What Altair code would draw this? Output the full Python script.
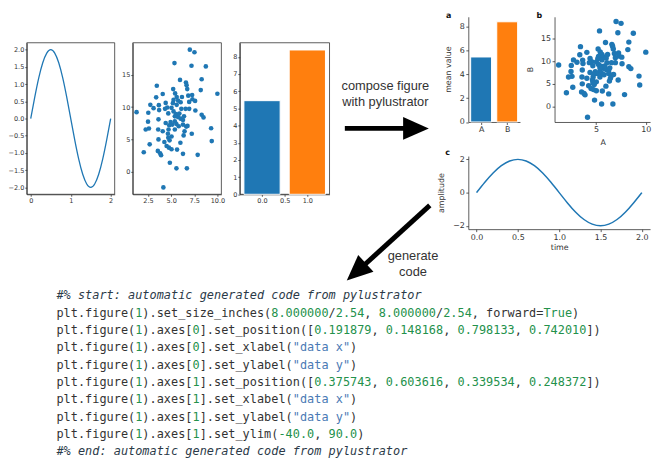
import altair as alt
import pandas as pd

# ---------------- data ----------------
sine_t = [0.0, 0.1, 0.2, 0.3, 0.4, 0.5, 0.6, 0.7, 0.8, 0.9, 1.0,
          1.1, 1.2, 1.3, 1.4, 1.5, 1.6, 1.7, 1.8, 1.9, 2.0]
sine_y = [0.0, 0.62, 1.18, 1.62, 1.90, 2.0, 1.90, 1.62, 1.18, 0.62, 0.0,
          -0.62, -1.18, -1.62, -1.90, -2.0, -1.90, -1.62, -1.18, -0.62, 0.0]

scatter_x = [7.02, 7.52, 5.36, 7.20, 8.75, 3.45, 5.96, 8.30, 6.60, 6.67,
             4.09, 5.22, 5.43, 3.38, 10.0, 6.74, 8.20, 6.85, 7.27, 5.60,
             5.26, 5.75, 7.30, 5.19, 4.41, 2.75, 3.67, 6.03, 6.95, 1.26,
             2.53, 3.70, 4.58, 5.04, 6.10, 6.56, 7.62, 5.53, 8.30, 8.50,
             5.75, 6.03, 3.63, 2.50, 6.28, 5.40, 4.41, 4.94, 5.12, 5.57,
             4.79, 6.77, 6.63, 2.60, 2.25, 3.60, 6.45, 4.72, 9.32, 4.65,
             7.23, 6.35, 5.04, 4.69, 3.63, 4.83, 4.27, 6.00, 9.39, 2.68,
             4.51, 4.76, 5.04, 5.64, 3.56, 3.81, 3.91, 2.04, 6.28, 7.87,
             4.86, 5.57, 6.70, 4.16, 5.40, 5.89, 6.39, 5.26, 4.34, 4.09,
             5.40, 5.82, 6.28, 6.95, 3.10, 5.60, 6.17, 7.59, 4.69]
scatter_y = [18.85, 18.45, 16.78, 16.37, 16.27, 13.28, 14.19, 14.29, 13.79, 13.38,
             12.01, 12.77, 12.11, 11.50, 12.06, 12.77, 12.62, 11.76, 11.86, 11.56,
             11.10, 11.00, 11.20, 10.60, 10.64, 10.34, 10.29, 10.74, 10.80, 9.22,
             9.12, 9.53, 9.93, 9.88, 9.73, 9.73, 9.48, 8.92, 8.82, 8.41,
             8.46, 8.21, 8.11, 7.75, 8.00, 7.80, 7.55, 7.70, 7.30, 7.40,
             7.20, 7.10, 6.99, 6.69, 6.54, 6.54, 6.28, 6.54, 6.74, 5.88,
             5.88, 5.63, 5.47, 5.27, 5.02, 4.87, 4.61, 4.51, 4.76, 4.26,
             4.00, 3.75, 3.50, 3.45, 3.24, 2.89, 2.58, 3.04, 2.79, 2.64,
             1.42, 0.56, 0.56, -2.38, 8.57, 9.00, 8.57, 9.33, 9.73, 6.28,
             6.54, 7.05, 7.30, 9.73, 9.83, 10.34, 11.56, 10.95, 9.02]

bar_labels = ["A", "B"]
bar_pos = [0, 1]
bar_values = [5.45, 8.40]
bar_colors = ["#1f77b4", "#ff7f0e"]

compose_text = ["compose figure", "with pylustrator"]
generate_text = ["generate", "code"]
panel_letters = ["a", "b", "c"]

code_lines = [
    [("#% start: automatic generated code from pylustrator", "c")],
    [("plt.figure(", "t"), ("1", "n"), (").set_size_inches(", "t"), ("8.000000", "n"), ("/", "t"),
     ("2.54", "n"), (", ", "t"), ("8.000000", "n"), ("/", "t"), ("2.54", "n"), (", forward=", "t"),
     ("True", "n"), (")", "t")],
    [("plt.figure(", "t"), ("1", "n"), (").axes[", "t"), ("0", "n"), ("].set_position([", "t"),
     ("0.191879", "n"), (", ", "t"), ("0.148168", "n"), (", ", "t"), ("0.798133", "n"), (", ", "t"),
     ("0.742010", "n"), ("])", "t")],
    [("plt.figure(", "t"), ("1", "n"), (").axes[", "t"), ("0", "n"), ("].set_xlabel(", "t"),
     ('"data x"', "s"), (")", "t")],
    [("plt.figure(", "t"), ("1", "n"), (").axes[", "t"), ("0", "n"), ("].set_ylabel(", "t"),
     ('"data y"', "s"), (")", "t")],
    [("plt.figure(", "t"), ("1", "n"), (").axes[", "t"), ("1", "n"), ("].set_position([", "t"),
     ("0.375743", "n"), (", ", "t"), ("0.603616", "n"), (", ", "t"), ("0.339534", "n"), (", ", "t"),
     ("0.248372", "n"), ("])", "t")],
    [("plt.figure(", "t"), ("1", "n"), (").axes[", "t"), ("1", "n"), ("].set_xlabel(", "t"),
     ('"data x"', "s"), (")", "t")],
    [("plt.figure(", "t"), ("1", "n"), (").axes[", "t"), ("1", "n"), ("].set_ylabel(", "t"),
     ('"data y"', "s"), (")", "t")],
    [("plt.figure(", "t"), ("1", "n"), (").axes[", "t"), ("1", "n"), ("].set_ylim(", "t"),
     ("-40.0", "n"), (", ", "t"), ("90.0", "n"), (")", "t")],
    [("#% end: automatic generated code from pylustrator", "c")],
]

# ---------------- layout helpers ----------------
M = 8            # page margin
W, H = 656, 468  # whole canvas (right/bottom margin used as drawing room)
DARK = "#333333"
one = pd.DataFrame({"_": [0]})


def sc(dom, p0, p1):
    return alt.Scale(domain=dom, range=[p0 - M, p1 - M], nice=False, zero=False)


AX = dict(grid=False, domainColor=DARK, tickColor=DARK, labelColor=DARK,
          labelFont="DejaVu Sans", tickSize=2.5, labelPadding=1.5,
          domainWidth=0.8, tickWidth=0.8, labelFlush=False, labelOverlap=False,
          labelBound=False, titleFont="DejaVu Sans", titleFontWeight="normal",
          titleColor=DARK)


def xaxis(y_page, values, fmt, fs, **kw):
    d = dict(AX)
    d.update(kw)
    return alt.Axis(orient="bottom", offset=(y_page - M) - H, values=values,
                    format=fmt, labelFontSize=fs, **d)


def yaxis(x_page, values, fmt, fs, **kw):
    d = dict(AX)
    d.update(kw)
    return alt.Axis(orient="left", offset=-(x_page - M), values=values,
                    format=fmt, labelFontSize=fs, **d)


def frame(xs, ys, xd, yd):
    df = pd.DataFrame({"x0": [xd[0]], "x1": [xd[1]], "y0": [yd[0]], "y1": [yd[1]]})
    return alt.Chart(df).mark_rect(fillOpacity=0, stroke=DARK, strokeWidth=0.8).encode(
        x=alt.X("x0:Q", scale=xs, axis=None), x2="x1",
        y=alt.Y("y0:Q", scale=ys, axis=None), y2="y1")


sine_df = pd.DataFrame({"t": sine_t, "y": sine_y})
scat_df = pd.DataFrame({"x": scatter_x, "y": scatter_y})
bar_df = pd.DataFrame({"pos": bar_pos, "label": bar_labels, "value": bar_values,
                       "color": bar_colors})
bar_df["lo"] = bar_df["pos"] - 0.4
bar_df["hi"] = bar_df["pos"] + 0.4
label_expr = "[" + ",".join("'%s'" % c for c in bar_labels) + "][datum.value]"

BLUE = "#1f77b4"

# ---------------- left: original panels ----------------
L_TOP, L_BOT = 40.3, 193.7
FL = 6.6
LSMALL = dict(tickSize=2, labelPadding=1)

P1_L = 27
d1x, d1y = [-0.1, 2.1], [-2.2, 2.2]
s1x, s1y = sc(d1x, P1_L, 116), sc(d1y, L_BOT, L_TOP)
f1 = frame(s1x, s1y, d1x, d1y)
p1 = alt.Chart(sine_df).mark_line(color=BLUE, strokeWidth=1.3, interpolate="natural").encode(
    x=alt.X("t:Q", scale=s1x, axis=xaxis(L_BOT, [0, 1, 2], "d", FL, **LSMALL), title=None),
    y=alt.Y("y:Q", scale=s1y, title=None,
            axis=yaxis(P1_L, [-2, -1.5, -1, -0.5, 0, 0.5, 1, 1.5, 2], ".1f", FL, **LSMALL)))

d2x, d2y = [0.85, 10.43], [-3.44, 19.91]
s2x, s2y = sc(d2x, 134.3, 224), sc(d2y, L_BOT, L_TOP)
f2 = frame(s2x, s2y, d2x, d2y)
p2 = alt.Chart(scat_df).mark_circle(color=BLUE, opacity=1, size=22).encode(
    x=alt.X("x:Q", scale=s2x, title=None,
            axis=xaxis(L_BOT, [2.5, 5, 7.5, 10], ".1f", FL, **LSMALL)),
    y=alt.Y("y:Q", scale=s2y, title=None,
            axis=yaxis(134.3, [0, 5, 10, 15], "d", FL, **LSMALL)))

d3x, d3y = [-0.49, 1.49], [0, 8.82]
s3x, s3y = sc(d3x, 242.7, 333.5), sc(d3y, L_BOT, L_TOP)
f3 = frame(s3x, s3y, d3x, d3y)
p3 = alt.Chart(bar_df).mark_bar(stroke="white", strokeWidth=1).encode(
    x=alt.X("lo:Q", scale=s3x, title=None,
            axis=xaxis(L_BOT, [0, 0.5, 1], ".1f", FL, **LSMALL)),
    x2="hi",
    y=alt.Y("value:Q", scale=s3y, title=None,
            axis=yaxis(242.7, [0, 1, 2, 3, 4, 5, 6, 7, 8], "d", FL, **LSMALL)),
    y2=alt.datum(0),
    color=alt.Color("color:N", scale=None))

# ---------------- right: composed figure ----------------
R_TOP, R_BOT = 14, 120.5
FS = 8

sax, say = sc([-0.49, 1.49], 474, 526.3), sc([0, 8.82], R_BOT, R_TOP)
pa = alt.Chart(bar_df).mark_bar(stroke="white", strokeWidth=1).encode(
    x=alt.X("lo:Q", scale=sax, title=None,
            axis=xaxis(R_BOT, [0, 1], "d", FS, labelExpr=label_expr)),
    x2="hi",
    y=alt.Y("value:Q", scale=say, title="mean value",
            axis=yaxis(474, [0, 2, 4, 6, 8], "d", FS, titleFontSize=FS, titleX=-20,
                       titleY=67 - M, titleAngle=270, titleBaseline="middle",
                       titleAlign="center")),
    y2=alt.datum(0),
    color=alt.Color("color:N", scale=None))

sbx, sby = sc([0.85, 10.43], 561.3, 658), sc([-3.44, 19.91], R_BOT, R_TOP)
pb = alt.Chart(scat_df).mark_circle(color=BLUE, opacity=1, size=30).encode(
    x=alt.X("x:Q", scale=sbx, title="A",
            axis=xaxis(R_BOT, [5, 10], "d", FS, titleFontSize=FS, titleX=610 - M,
                       titleY=141.5 - R_BOT, titleBaseline="middle", titleAlign="center")),
    y=alt.Y("y:Q", scale=sby, title="B",
            axis=yaxis(561.3, [0, 5, 10, 15], "d", FS, titleFontSize=FS, titleX=-24,
                       titleY=67 - M, titleAngle=270, titleBaseline="middle",
                       titleAlign="center")))

C_TOP, C_BOT = 155, 229
scx, scy = sc([-0.1, 2.1], 474, 658), sc([-2.2, 2.2], C_BOT, C_TOP)
pc = alt.Chart(sine_df).mark_line(color=BLUE, strokeWidth=1.5, interpolate="natural").encode(
    x=alt.X("t:Q", scale=scx, title="time",
            axis=xaxis(C_BOT, [0, 0.5, 1, 1.5, 2], ".1f", FS, titleFontSize=FS,
                       titleX=566 - M, titleY=248 - C_BOT, titleBaseline="middle",
                       titleAlign="center")),
    y=alt.Y("y:Q", scale=scy, title="amplitude",
            axis=yaxis(474, [-2, 0, 2], "d", FS, titleFontSize=FS, titleX=-27,
                       titleY=192 - M, titleAngle=270, titleBaseline="middle",
                       titleAlign="center")))

letters = []
for txt, (lx, ly) in zip(panel_letters, [(454, 13), (546, 13), (453, 152)]):
    letters.append(alt.Chart(one).mark_text(
        font="DejaVu Sans", fontSize=8, fontWeight="bold", color="#111111",
        align="center", baseline="middle").encode(
        x=alt.value(lx - M), y=alt.value(ly - M), text=alt.value(txt)))

# ---------------- arrows and captions ----------------
ARROW_HEAD = "M-1,-0.885L1,0L-1,0.885Z"

h_shaft = alt.Chart(one).mark_rule(color="black", strokeWidth=5, strokeCap="butt").encode(
    x=alt.value(349 - M), x2=alt.value(410 - M), y=alt.value(127 - M), y2=alt.value(127 - M))
h_head = alt.Chart(one).mark_point(shape=ARROW_HEAD, filled=True, color="black", opacity=1,
                                   size=676, strokeWidth=0).encode(
    x=alt.value(421 - M), y=alt.value(127 - M))

d_shaft = alt.Chart(one).mark_rule(color="black", strokeWidth=5, strokeCap="butt").encode(
    x=alt.value(435 - M), x2=alt.value(369 - M), y=alt.value(205 - M), y2=alt.value(265 - M))
d_head = alt.Chart(one).mark_point(shape=ARROW_HEAD, filled=True, color="black", opacity=1,
                                   size=676, strokeWidth=0, angle=137.9).encode(
    x=alt.value(360.6 - M), y=alt.value(272.3 - M))

compose = alt.Chart(one).mark_text(
    text=compose_text, font="Liberation Sans", fontSize=13, color=DARK,
    align="center", baseline="middle", lineHeight=16.7).encode(
    x=alt.value(390 - M), y=alt.value(84 - M))

generate = alt.Chart(one).mark_text(
    text=generate_text, font="Liberation Sans", fontSize=13, color=DARK,
    align="center", baseline="middle", lineHeight=16).encode(
    x=alt.value(418 - M), y=alt.value(256 - M))

# ---------------- generated code ----------------
tok_colors = {"t": "#333333", "n": "#23914b", "s": "#4a7ab5", "c": "#2b3a48"}
rows = []
for i, line in enumerate(code_lines):
    col = 0
    for text, kind in line:
        for ch in text:
            if ch != " ":
                rows.append({"line": i, "col": col + 0.5, "ch": ch,
                             "color": tok_colors[kind], "italic": kind == "c"})
            col += 1
code_df = pd.DataFrame(rows)
NCOL = 76
CW = 7.25
code_x = alt.Scale(domain=[0, NCOL], range=[57 - M, 57 - M + NCOL * CW], nice=False, zero=False)
code_y = alt.Scale(domain=[0, len(code_lines) - 1], range=[296 - M, 454 - M], nice=False, zero=False)


def code_layer(df, style):
    return alt.Chart(df).mark_text(font="DejaVu Sans Mono", fontSize=12, fontStyle=style,
                                   align="center", baseline="middle").encode(
        x=alt.X("col:Q", scale=code_x, axis=None),
        y=alt.Y("line:Q", scale=code_y, axis=None),
        text="ch:N",
        color=alt.Color("color:N", scale=None))


code_plain = code_layer(code_df[~code_df["italic"]], "normal")
code_italic = code_layer(code_df[code_df["italic"]], "italic")

chart = alt.layer(
    f1, f2, f3, p1, p2, p3, pa, pb, pc, *letters,
    h_shaft, h_head, d_shaft, d_head, compose, generate, code_plain, code_italic,
).resolve_scale(x="independent", y="independent").properties(
    width=W, height=H, autosize=alt.AutoSizeParams(type="none"), padding=0,
    background="white",
).configure_view(strokeWidth=0)

chart.save("out.html", embed_options={"renderer": "svg", "actions": False})
